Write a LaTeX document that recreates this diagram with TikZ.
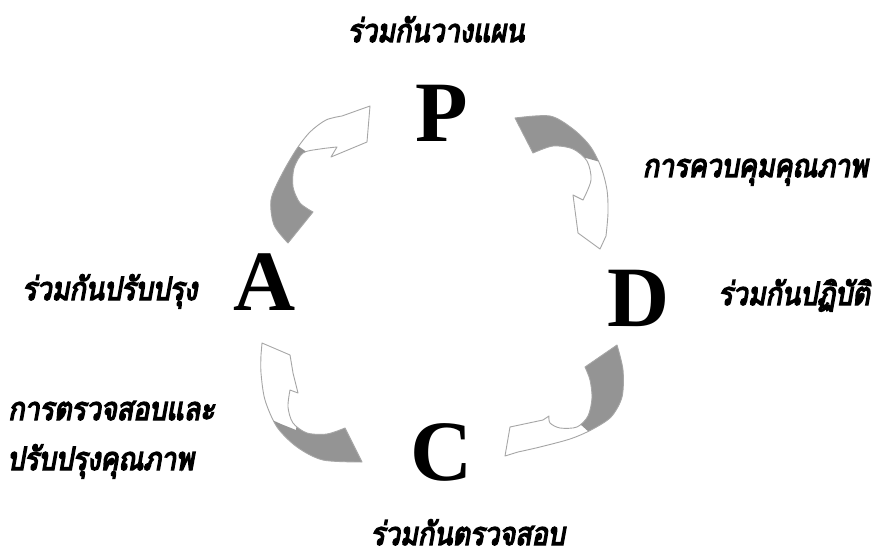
\documentclass[tikz,border=0pt]{standalone}
\usepackage{fontspec}
\setmainfont{Liberation Serif}
\newfontfamily\thaifont[Script=Thai, FakeBold=4.5, FakeSlant=0.18, FakeStretch=0.84]{Loma}
\newcommand\arrowOnePath[1]{\path[#1] (288,243) -- (313,212) -- plot[smooth] coordinates {(313,212) (300,203) (293,187) (294,168) (303,153) (320,149) (337,147)} -- (331,157) -- (367,142) -- (370,106) -- (342,116) -- plot[smooth] coordinates {(342,116) (326,120) (310,132) (296,150) (281,176) (271,200) (274,225) (288,243)} -- cycle;}
\newcommand\arrowTwoPath[1]{\path[#1] (515,118) -- plot[smooth] coordinates {(515,118) (550,116) (573,129) (590,146) (601,167) (607,190) (608,213) (606,236)} -- (600,249) -- (578,233) -- (573,195) -- (583,200) -- plot[smooth] coordinates {(583,200) (591,180) (587,161) (573,149) (553,146) (533,153)} -- cycle;}
\newcommand\arrowThreePath[1]{\path[#1] (617,345) -- plot[smooth] coordinates {(617,345) (623,370) (622,397) (611,417) (591,430) (570,439) (540,447) (518,452)} -- (505,456) -- (510,427) -- (543,420) -- (549,416) -- plot[smooth] coordinates {(549,416) (550,423) (560,428) (577,427) (588,416) (592,398) (590,380) (585,367)} -- cycle;}
\newcommand\arrowFourPath[1]{\path[#1] (345,428) -- (362,462) -- plot[smooth] coordinates {(362,462) (323,460) (297,447) (277,427) (265,400) (261,373) (261,355)} -- (262,343) -- (290,355) -- (293,373) -- (298,393) -- (290,390) -- plot[smooth] coordinates {(290,390) (288,407) (293,423) (307,433) (327,434) (345,428)} -- cycle;}
\begin{document}
\begin{tikzpicture}[x=1pt,y=-1pt,
  thai/.style={font=\thaifont\fontsize{32}{34}\selectfont, inner sep=0pt, text=black},
  letter/.style={font=\bfseries\fontsize{86}{90}\selectfont, inner sep=0pt},
  arrowline/.style={draw=black!35, line width=0.9pt, line join=round},
  darkpart/.style={fill=black!42},
]
\useasboundingbox (0,0) rectangle (876,559);
\fill[white] (0,0) rectangle (876,559);

% curved arrows
\begin{scope}
  \arrowOnePath{clip}
  \fill[white] (240,80) rectangle (400,260);
  \fill[darkpart] (250,128) -- (298,146) -- (318,160) -- (318,260) -- (250,260) -- cycle;
\end{scope}
\arrowOnePath{arrowline}

\begin{scope}
  \arrowTwoPath{clip}
  \fill[white] (490,90) rectangle (660,270);
  \fill[darkpart] (500,100) -- (650,100) -- (650,176) -- (586,158) -- (500,158) -- cycle;
\end{scope}
\arrowTwoPath{arrowline}

\begin{scope}
  \arrowThreePath{clip}
  \fill[white] (490,330) rectangle (660,480);
  \fill[darkpart] (575,330) -- (660,330) -- (660,470) -- (598,440) -- (580,424) -- (575,424) -- cycle;
\end{scope}
\arrowThreePath{arrowline}

\begin{scope}
  \arrowFourPath{clip}
  \fill[white] (240,330) rectangle (400,480);
  \fill[darkpart] (250,410) -- (281,424) -- (296,430) -- (300,400) -- (400,400) -- (400,490) -- (250,490) -- cycle;
\end{scope}
\arrowFourPath{arrowline}

% letters
\node[letter, anchor=base] (P) at (442,142) {P};
\node[letter, anchor=base] (D) at (639,326) {D};
\node[letter, anchor=base] (C) at (442,480) {C};
\node[letter, anchor=base] (A) at (265,310) {A};

% labels
\node[thai, anchor=base] (plan) at (436,42) {ร่วมกันวางแผน};
\node[thai, anchor=base east] (qc) at (868,177) {การควบคุมคุณภาพ};
\node[thai, anchor=base east] (do) at (870,305) {ร่วมกันปฏิบัติ};
\node[thai, anchor=base west] (act) at (22,300) {ร่วมกันปรับปรุง};
\node[thai, anchor=base west] (chk1) at (8,420) {การตรวจสอบและ};
\node[thai, anchor=base west] (chk2) at (7,470) {ปรับปรุงคุณภาพ};
\node[thai, anchor=base east] (check) at (565,545) {ร่วมกันตรวจสอบ};
\end{tikzpicture}
\end{document}
